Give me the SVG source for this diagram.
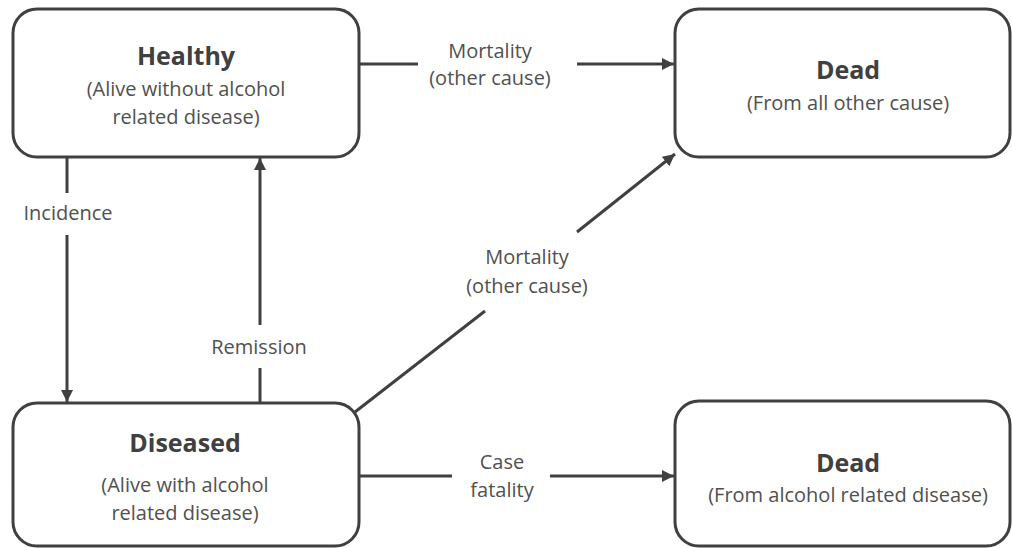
<svg xmlns="http://www.w3.org/2000/svg" width="1012" height="548" viewBox="0 0 1012 548">
<defs>
<marker id="arr" viewBox="0 0 10 10" refX="10" refY="5" markerWidth="4" markerHeight="4" markerUnits="strokeWidth" orient="auto">
<path d="M0,0 L10,5 L0,10 z" fill="#404040"/>
</marker>
<style>
.box{fill:#fff;stroke:#404040;stroke-width:3}
.t{font-family:"Open Sans","Liberation Sans",sans-serif;font-weight:bold;font-size:25px;fill:#404040;text-anchor:middle}
.s{font-family:"Open Sans","Liberation Sans",sans-serif;font-size:20px;fill:#505050;text-anchor:middle}
.l{font-family:"Open Sans","Liberation Sans",sans-serif;font-size:20px;fill:#505050;text-anchor:middle}
.c{fill:none;stroke:#404040;stroke-width:3}
</style>
</defs>
<rect width="1012" height="548" fill="#fff"/>
<g id="connectors">
<line class="c" x1="359" y1="64" x2="418" y2="64"/>
<line class="c" x1="577" y1="64" x2="674" y2="64" marker-end="url(#arr)"/>
<text class="l" x="490" y="58">Mortality</text>
<text class="l" x="490" y="85">(other cause)</text>

<line class="c" x1="67" y1="157" x2="67" y2="193"/>
<line class="c" x1="67" y1="235" x2="67" y2="402" marker-end="url(#arr)"/>
<text class="l" x="68" y="220">Incidence</text>

<line class="c" x1="260" y1="403" x2="260" y2="368"/>
<line class="c" x1="260" y1="325" x2="260" y2="158" marker-end="url(#arr)"/>
<text class="l" x="259" y="354">Remission</text>

<line class="c" x1="355" y1="412" x2="485" y2="311"/>
<line class="c" x1="577" y1="232" x2="675" y2="154" marker-end="url(#arr)"/>
<text class="l" x="527" y="264">Mortality</text>
<text class="l" x="527" y="293">(other cause)</text>

<line class="c" x1="359" y1="476" x2="452" y2="476"/>
<line class="c" x1="550" y1="476" x2="674" y2="476" marker-end="url(#arr)"/>
<text class="l" x="502" y="469">Case</text>
<text class="l" x="502" y="497">fatality</text>
</g>
<g id="healthy">
<rect class="box" x="13" y="9" width="346" height="148" rx="24"/>
<text class="t" x="186" y="65">Healthy</text>
<text class="s" x="186" y="96">(Alive without alcohol</text>
<text class="s" x="186" y="124">related disease)</text>
</g>
<g id="dead-other">
<rect class="box" x="675" y="9" width="335" height="148" rx="24"/>
<text class="t" x="848" y="79">Dead</text>
<text class="s" x="848" y="110">(From all other cause)</text>
</g>
<g id="diseased">
<rect class="box" x="13" y="403" width="346" height="143" rx="24"/>
<text class="t" x="185" y="452">Diseased</text>
<text class="s" x="185" y="492">(Alive with alcohol</text>
<text class="s" x="185" y="520">related disease)</text>
</g>
<g id="dead-alcohol">
<rect class="box" x="675" y="401" width="335" height="145" rx="24"/>
<text class="t" x="848" y="472">Dead</text>
<text class="s" x="848" y="502">(From alcohol related disease)</text>
</g>
</svg>
